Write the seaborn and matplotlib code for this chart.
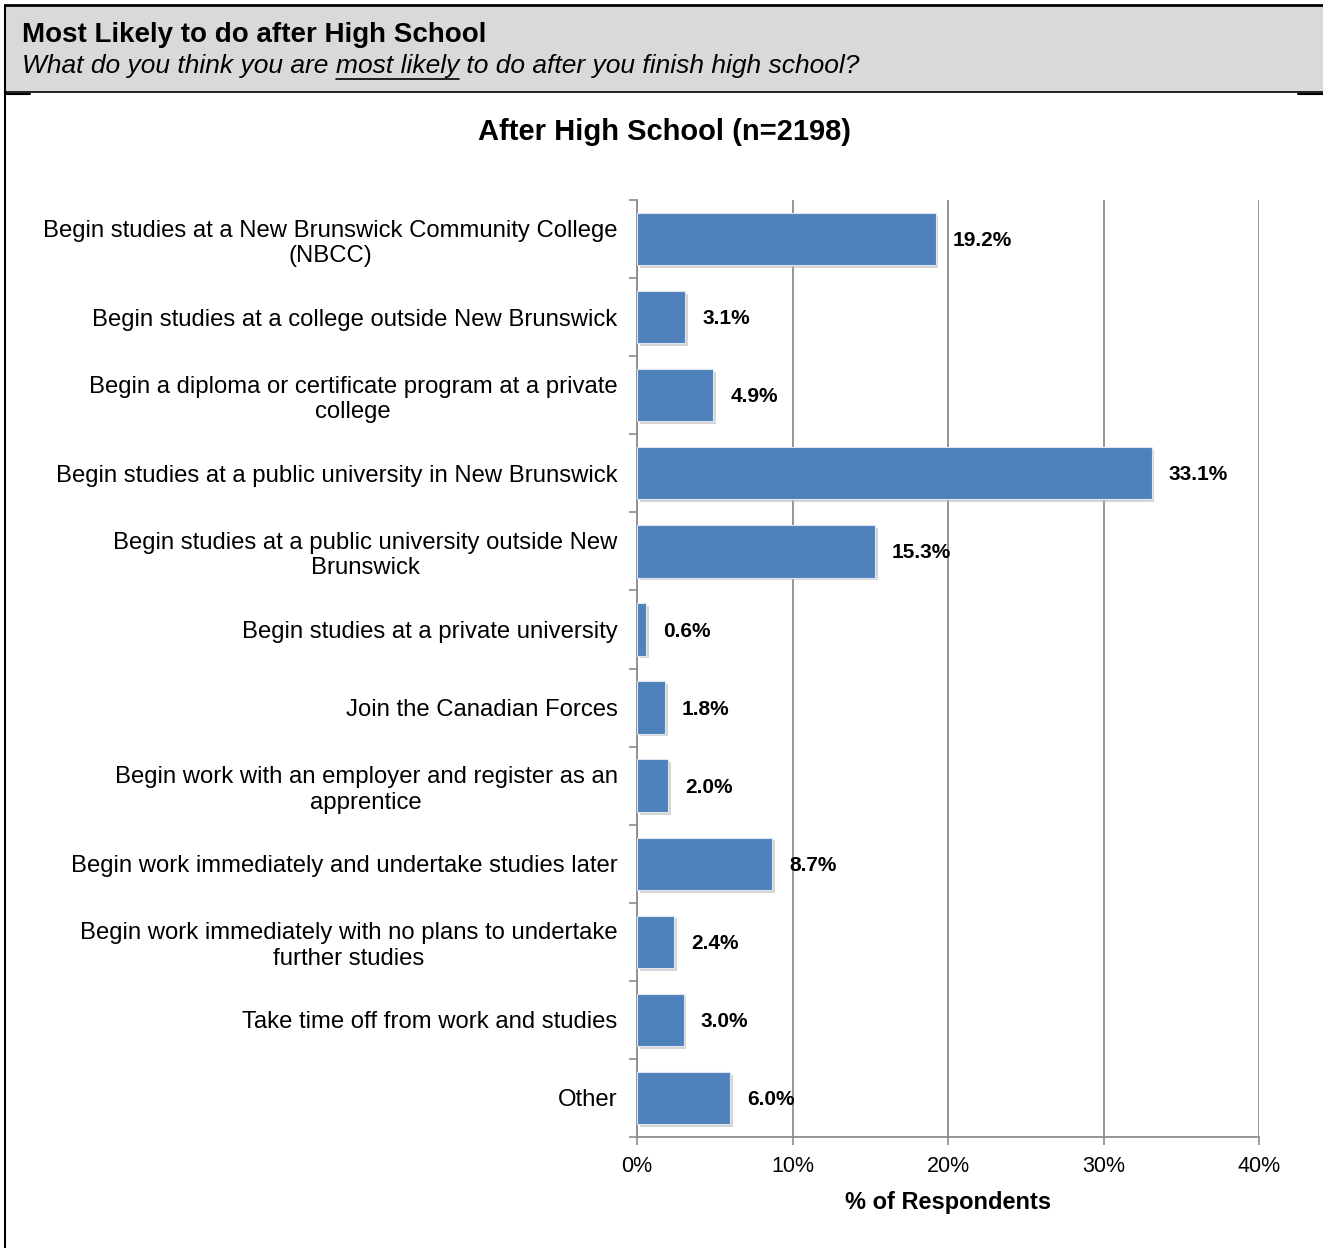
import matplotlib
matplotlib.use('Agg')
import matplotlib.pyplot as plt
import matplotlib.patheffects as pe
from matplotlib.patches import Rectangle
from matplotlib.lines import Line2D
from matplotlib.ticker import FixedLocator
import seaborn as sns
import pandas as pd

# datos del grafico
categorias = [
    'Begin studies at a New Brunswick Community College\n(NBCC)',
    'Begin studies at a college outside New Brunswick',
    'Begin a diploma or certificate program at a private\ncollege',
    'Begin studies at a public university in New Brunswick',
    'Begin studies at a public university outside New\nBrunswick',
    'Begin studies at a private university',
    'Join the Canadian Forces',
    'Begin work with an employer and register as an\napprentice',
    'Begin work immediately and undertake studies later',
    'Begin work immediately with no plans to undertake\nfurther studies',
    'Take time off from work and studies',
    'Other',
]
valores = [19.2, 3.1, 4.9, 33.1, 15.3, 0.6, 1.8, 2.0, 8.7, 2.4, 3.0, 6.0]
ticks_x = [0, 10, 20, 30, 40]

df = pd.DataFrame({'cat': categorias, 'pct': valores})

sns.set_theme(style='white')
plt.rcParams['font.family'] = ['Liberation Sans', 'DejaVu Sans']
plt.rcParams['text.color'] = 'black'
plt.rcParams['xtick.color'] = 'black'
plt.rcParams['ytick.color'] = 'black'
plt.rcParams['axes.labelcolor'] = 'black'

W, H = 1323, 1248
fig = plt.figure(figsize=(W / 100, H / 100), dpi=100)

# cabecera gris
fig.patches.append(Rectangle((5 / W, 1 - 92 / H), 1 - 5 / W, 87 / H, transform=fig.transFigure,
                             facecolor='#D9D9D9', edgecolor='none', zorder=0))
fig.lines.append(Line2D([5 / W, 1], [1 - 5 / H, 1 - 5 / H], transform=fig.transFigure, color='black', lw=2))
fig.lines.append(Line2D([5 / W, 1], [1 - 92 / H, 1 - 92 / H], transform=fig.transFigure, color='black', lw=1.2))
fig.lines.append(Line2D([5 / W, 5 / W], [0, 1 - 5 / H], transform=fig.transFigure, color='black', lw=1.5))
fig.lines.append(Line2D([5 / W, 30 / W], [1 - 94 / H, 1 - 94 / H], transform=fig.transFigure, color='black', lw=1.5))
fig.lines.append(Line2D([1298 / W, 1], [1 - 94 / H, 1 - 94 / H], transform=fig.transFigure, color='black', lw=1.5))

fig.text(22 / W, 1 - 35 / H, 'Most Likely to do after High School', fontsize=20,
         fontweight='bold', va='center', ha='left')
t1 = fig.text(22 / W, 1 - 66 / H, 'What do you think you are ', fontsize=19, style='italic', va='center', ha='left')
fig.canvas.draw()
r = fig.canvas.get_renderer()
bb = t1.get_window_extent(r)
t2 = fig.text(bb.x1 / W, 1 - 66 / H, 'most likely', fontsize=19, style='italic', va='center', ha='left')
bb2 = t2.get_window_extent(r)
fig.lines.append(Line2D([bb2.x0 / W, bb2.x1 / W], [1 - 79 / H, 1 - 79 / H], transform=fig.transFigure,
                        color='black', lw=1.2))
fig.text(bb2.x1 / W, 1 - 66 / H, ' to do after you finish high school?', fontsize=19, style='italic',
         va='center', ha='left')

fig.text(665 / W, 1 - 132 / H, 'After High School (n=2198)', fontsize=21, fontweight='bold',
         ha='center', va='center')

ax = fig.add_axes([637 / W, 1 - 1137 / H, (1259 - 637) / W, (1137 - 200) / H])
sns.barplot(data=df, x='pct', y='cat', orient='h', color='#4F81BD', saturation=1,
            width=0.67, edgecolor='#DCE6F2', linewidth=0.8, ax=ax, zorder=3)
for p in ax.patches:
    p.set_path_effects([pe.SimplePatchShadow(offset=(2, -2), shadow_rgbFace='#BBBBBB', alpha=0.6), pe.Normal()])

ax.set_xlim(0, 40)
ax.set_ylim(len(categorias) - 0.5, -0.5)
ax.set_xticks(ticks_x)
ax.set_xticklabels([f'{t}%' for t in ticks_x], fontsize=15.5)
ax.xaxis.grid(True, color='#8C8C8C', lw=1.3, zorder=0)
ax.yaxis.grid(False)
ax.set_axisbelow(True)
ax.set_ylabel('')
ax.set_xlabel('% of Respondents', fontsize=17, fontweight='bold', labelpad=10)
ax.set_yticks(range(len(categorias)))
ax.set_yticklabels(categorias, fontsize=17.2, ha='right', multialignment='center', linespacing=1.2)
ax.yaxis.set_minor_locator(FixedLocator([i - 0.5 for i in range(len(categorias) + 1)]))
ax.tick_params(axis='y', which='minor', length=6, width=1.2, color='#8C8C8C', left=True)
ax.tick_params(axis='y', which='major', length=0, pad=14)
ax.tick_params(axis='x', which='major', length=6, width=1.2, color='#8C8C8C', bottom=True, pad=8)

for s in ['top', 'right']:
    ax.spines[s].set_visible(False)
for s in ['left', 'bottom']:
    ax.spines[s].set_color('#8C8C8C')
    ax.spines[s].set_linewidth(1.3)

for i, v in enumerate(valores):
    ax.text(v + 1.1, i + 0.02, f'{v:.1f}%', va='center', ha='left', fontsize=15, fontweight='bold', zorder=5)

fig.savefig('out.png', dpi=100)
